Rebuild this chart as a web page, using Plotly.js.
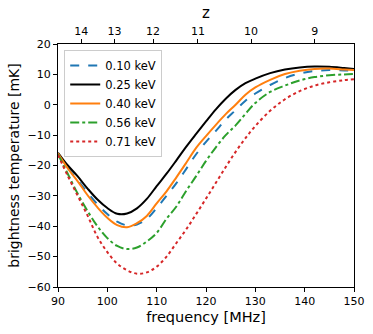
<!DOCTYPE html>
<html>
<head>
<meta charset="utf-8">
<script src="https://cdn.plot.ly/plotly-3.0.1.min.js"></script>
<style>
  html, body { margin: 0; padding: 0; background: #fff; }
  #plot { width: 373px; height: 334px; }
</style>
</head>
<body>
<div id="plot"></div>
<script>
// frequency grid [MHz] and brightness temperature [mK]
const freq = [90, 92, 94, 96, 98, 100, 102, 104, 106, 108, 110, 112, 114, 116, 118, 120, 122, 124, 126, 128, 130, 133, 136, 139, 142, 145, 148, 150];

const t010 = [-16.0, -20.8, -24.8, -29.0, -32.8, -36.0, -38.5, -39.7, -39.4, -37.6, -34.0, -30.0, -25.8, -21.1, -16.3, -12.2, -8.6, -4.9, -1.8, 1.3, 3.7, 6.5, 8.8, 10.3, 11.1, 11.4, 11.3, 11.2];
const t025 = [-15.8, -20.0, -23.6, -27.6, -31.2, -34.0, -35.9, -35.8, -34.1, -31.0, -26.8, -22.7, -18.3, -13.8, -9.6, -5.5, -1.5, 2.0, 4.9, 7.1, 8.6, 10.4, 11.6, 12.3, 12.6, 12.5, 12.1, 11.8];
const t040 = [-16.0, -21.0, -25.2, -29.8, -33.8, -37.2, -39.6, -40.3, -39.0, -36.6, -32.5, -28.5, -23.9, -19.1, -14.2, -10.3, -6.6, -3.1, 0.0, 3.3, 5.7, 8.2, 10.1, 11.2, 11.8, 11.9, 11.6, 11.4];
const t056 = [-16.3, -22.8, -29.3, -35.0, -40.0, -43.9, -46.5, -47.5, -47.0, -45.0, -42.2, -37.5, -33.5, -28.3, -23.5, -18.5, -14.0, -10.0, -6.8, -3.0, 0.6, 4.2, 6.3, 8.0, 9.1, 9.7, 10.0, 10.1];
const t071 = [-16.5, -23.5, -30.0, -36.5, -43.5, -48.5, -52.3, -54.5, -55.6, -55.2, -53.3, -50.0, -45.5, -41.0, -36.0, -30.9, -25.7, -20.5, -15.5, -11.0, -7.0, -2.0, 1.8, 4.5, 6.3, 7.4, 8.1, 8.4];

const seriesNames = ["0.10 keV", "0.25 keV", "0.40 keV", "0.56 keV", "0.71 keV"];
const seriesColors = ["#1f77b4", "#000000", "#ff7f0e", "#2ca02c", "#d62728"];
const seriesDash = ["dash", "solid", "solid", "dashdot", "dot"];

// redshift ticks on the top axis
const zTicks = [14, 13, 12, 11, 10, 9];
const NU21 = 1420.4;

const ys = [t010, t025, t040, t056, t071];
const traces = ys.map((y, i) => ({
  type: "scatter",
  mode: "lines",
  x: freq,
  y: y,
  name: seriesNames[i],
  line: { color: seriesColors[i], dash: seriesDash[i], width: 2, shape: "spline", smoothing: 1 }
}));

// dummy trace so the top axis is drawn
traces.push({
  type: "scatter", mode: "lines", x: [90, 150], y: [null, null],
  xaxis: "x2", yaxis: "y", showlegend: false, hoverinfo: "skip"
});

const font = { family: "DejaVu Sans, sans-serif", color: "#000" };

const layout = {
  width: 373,
  height: 334,
  margin: { l: 58, r: 19, t: 44, b: 47 },
  paper_bgcolor: "#fff",
  plot_bgcolor: "#fff",
  font: Object.assign({ size: 11 }, font),
  showlegend: true,
  legend: {
    x: 0.021, y: 0.975, xanchor: "left", yanchor: "top",
    bgcolor: "rgba(255,255,255,0.8)", bordercolor: "#cccccc", borderwidth: 1,
    font: Object.assign({ size: 11.5 }, font)
  },
  xaxis: {
    range: [90, 150],
    tickvals: [90, 100, 110, 120, 130, 140, 150],
    ticks: "outside", ticklen: 4, tickcolor: "#000",
    showline: true, linecolor: "#000", linewidth: 1, mirror: true,
    showgrid: false, zeroline: false,
    tickfont: Object.assign({ size: 11 }, font),
    title: { text: "frequency [MHz]", font: Object.assign({ size: 14.5 }, font), standoff: 4 }
  },
  xaxis2: {
    overlaying: "x", side: "top", anchor: "y",
    range: [90, 150],
    tickvals: zTicks.map(z => NU21 / (1 + z)),
    ticktext: zTicks.map(String),
    ticks: "outside", ticklen: 4, tickcolor: "#000",
    showline: false, showgrid: false, zeroline: false,
    tickfont: Object.assign({ size: 11 }, font),
    title: { text: "z", font: Object.assign({ size: 15 }, font), standoff: 2 }
  },
  yaxis: {
    range: [-60, 20],
    tickvals: [-60, -50, -40, -30, -20, -10, 0, 10, 20],
    ticks: "outside", ticklen: 4, tickcolor: "#000",
    showline: true, linecolor: "#000", linewidth: 1, mirror: true,
    showgrid: false, zeroline: false,
    tickfont: Object.assign({ size: 11 }, font),
    title: { text: "brightness temperature [mK]", font: Object.assign({ size: 14 }, font), standoff: 4 }
  }
};

Plotly.newPlot("plot", traces, layout, { displayModeBar: false, staticPlot: true });
</script>
</body>
</html>
